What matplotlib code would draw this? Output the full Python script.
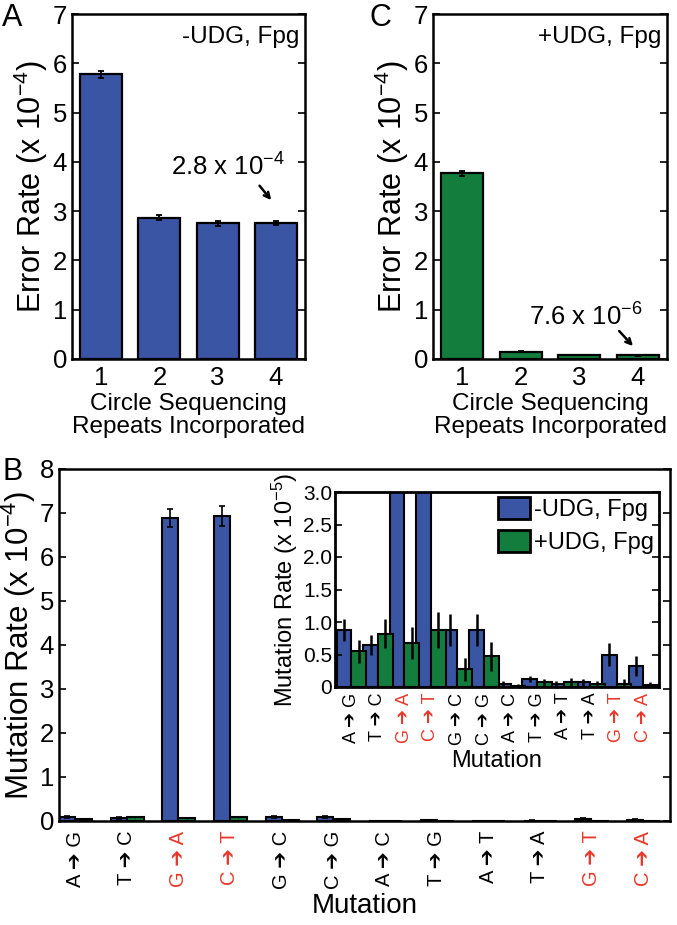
import numpy as np
import matplotlib.pyplot as plt

plt.rcParams['font.family'] = ['Liberation Sans', 'DejaVu Sans']
plt.rcParams['mathtext.fontset'] = 'custom'
plt.rcParams['mathtext.rm'] = 'Liberation Sans'
plt.rcParams['mathtext.it'] = 'Liberation Sans:italic'

# Panel A / C : error rate vs repeats (x 10^-4)
repeats = [1, 2, 3, 4]
err_minus = [5.78, 2.87, 2.75, 2.76]
err_minus_sd = [0.07, 0.05, 0.05, 0.05]
err_plus = [3.77, 0.15, 0.08, 0.076]
err_plus_sd = [0.05, 0.01, 0.005, 0.005]

# Panel B : mutation rates (x 10^-5)
mutations = ['A ➔ G', 'T ➔ C', 'G ➔ A', 'C ➔ T', 'G ➔ C', 'C ➔ G',
             'A ➔ C', 'T ➔ G', 'A ➔ T', 'T ➔ A', 'G ➔ T', 'C ➔ A']
red_muts = ['G ➔ A', 'C ➔ T', 'G ➔ T', 'C ➔ A']
mut_minus = [0.88, 0.65, 68.9, 69.3, 0.88, 0.88, 0.05, 0.12, 0.05, 0.07, 0.50, 0.32]
mut_minus_sd = [0.17, 0.15, 2.0, 2.2, 0.25, 0.25, 0.04, 0.05, 0.04, 0.05, 0.18, 0.15]
mut_plus = [0.55, 0.82, 0.68, 0.88, 0.27, 0.47, 0.02, 0.07, 0.08, 0.04, 0.05, 0.03]
mut_plus_sd = [0.18, 0.22, 0.25, 0.28, 0.18, 0.22, 0.02, 0.05, 0.06, 0.05, 0.08, 0.05]

blue = '#3b55a5'
green = '#137d3e'
red = '#e8372a'
W, H = 677, 925


def px_axes(fig, l, t, r, b):
    return fig.add_axes([l / W, 1 - b / H, (r - l) / W, (b - t) / H])


def style(ax, lw=1.8):
    for s in ax.spines.values():
        s.set_linewidth(lw)
    ax.tick_params(axis='y', direction='in', right=True, length=5, width=1.2)
    ax.tick_params(axis='x', length=0)


fig = plt.figure(figsize=(W / 100, H / 100), dpi=100)

# ---- panel A and C
panels = [
    (72, 305, err_minus, err_minus_sd, blue, '-UDG, Fpg', 'A', r'2.8 x 10$^{-4}$',
     (3.18, 3.73), (3.69, 3.56, 3.95, 3.18), 12),
    (433, 667, err_plus, err_plus_sd, green, '+UDG, Fpg', 'C', r'7.6 x 10$^{-6}$',
     (3.12, 0.67), (3.65, 0.61, 3.95, 0.22), 380),
]
for l, r, vals, sds, col, tag, lab, ann, txy, axy, lx in panels:
    ax = px_axes(fig, l, 14, r, 359)
    ax.bar(repeats, vals, width=0.72, color=col, edgecolor='black', linewidth=1.6,
           yerr=sds, error_kw=dict(ecolor='black', elinewidth=1.3, capsize=2.5, capthick=1.3))
    ax.set_xlim(0.5, 4.5)
    ax.set_ylim(0, 7)
    ax.set_xticks(repeats)
    ax.set_yticks(range(8))
    ax.tick_params(labelsize=18.5)
    ax.tick_params(axis='x', pad=5)
    style(ax)
    ax.set_ylabel(r'Error Rate (x 10$^{-4}$)', fontsize=22, labelpad=2)
    ax.set_xlabel('Circle Sequencing\nRepeats Incorporated', fontsize=17.5, labelpad=2,
                  linespacing=1.05)
    ax.text(0.975, 0.965, tag, transform=ax.transAxes, ha='right', va='top', fontsize=17.5)
    ax.annotate('', xy=(axy[2], axy[3]), xytext=(axy[0], axy[1]),
                arrowprops=dict(arrowstyle='->', lw=1.8, color='black'))
    ax.text(txy[0], txy[1], ann, ha='center', va='baseline', fontsize=18.5)
    fig.text(lx / W, 1 - 18 / H, lab, fontsize=22, ha='center', va='center')

# ---- panel B
x = np.arange(1, len(mutations) + 1)
mm = np.array(mut_minus) / 10
mp = np.array(mut_plus) / 10
axb = px_axes(fig, 59, 469, 670, 821)
axb.bar(x, mm, width=-0.31, align='edge', color=blue, edgecolor='black', linewidth=1.5,
        yerr=np.array(mut_minus_sd) / 10,
        error_kw=dict(ecolor='black', elinewidth=1.2, capsize=2.5, capthick=1.2))
axb.bar(x, mp, width=0.33, align='edge', color=green, edgecolor='black', linewidth=1.5,
        yerr=np.array(mut_plus_sd) / 10, error_kw=dict(ecolor='black', elinewidth=0.8, capsize=0))
axb.set_xlim(0.69, 12.52)
axb.set_ylim(0, 8)
axb.set_yticks(range(9))
axb.set_xticks(x)
axb.set_xticklabels(mutations, rotation=90, fontsize=14.5)
axb.tick_params(axis='y', labelsize=18.5)
axb.tick_params(axis='x', pad=7)
style(axb)
for t in axb.get_xticklabels():
    if t.get_text() in red_muts:
        t.set_color(red)
axb.set_ylabel(r'Mutation Rate (x 10$^{-4}$)', fontsize=22.5, labelpad=1)
axb.set_xlabel('Mutation', fontsize=20, labelpad=3)
fig.text(13 / W, 1 - 472 / H, 'B', fontsize=22, ha='center', va='center')

# ---- inset
axi = px_axes(fig, 335, 492, 659, 687)
axi.bar(x, mut_minus, width=-0.55, align='edge', color=blue, edgecolor='black', linewidth=1.5,
        yerr=mut_minus_sd, error_kw=dict(ecolor='black', elinewidth=1.8, capsize=0),
        label='-UDG, Fpg')
axi.bar(x, mut_plus, width=0.55, align='edge', color=green, edgecolor='black', linewidth=1.5,
        yerr=mut_plus_sd, error_kw=dict(ecolor='black', elinewidth=1.8, capsize=0),
        label='+UDG, Fpg')
axi.set_xlim(0.38, 12.6)
axi.set_ylim(0, 3)
axi.set_yticks(np.arange(0, 3.01, 0.5))
axi.set_yticklabels(['0', '0.5', '1.0', '1.5', '2.0', '2.5', '3.0'])
axi.set_xticks(x)
axi.set_xticklabels(mutations, rotation=90, fontsize=13)
axi.tick_params(axis='y', labelsize=15, pad=2)
axi.tick_params(axis='x', pad=4)
style(axi, lw=2)
for t in axi.get_xticklabels():
    if t.get_text() in red_muts:
        t.set_color(red)
axi.set_ylabel(r'Mutation Rate (x 10$^{-5}$)', fontsize=17, labelpad=2)
axi.set_xlabel('Mutation', fontsize=17, labelpad=4)
leg = axi.legend(loc='upper right', fontsize=17, frameon=False, handlelength=1.35,
                 handleheight=1.05, handletextpad=0.2, borderaxespad=0.1, borderpad=0.1,
                 labelspacing=0.4)
for h in leg.legend_handles:
    h.set_linewidth(2)

fig.savefig('out.png', dpi=100)
